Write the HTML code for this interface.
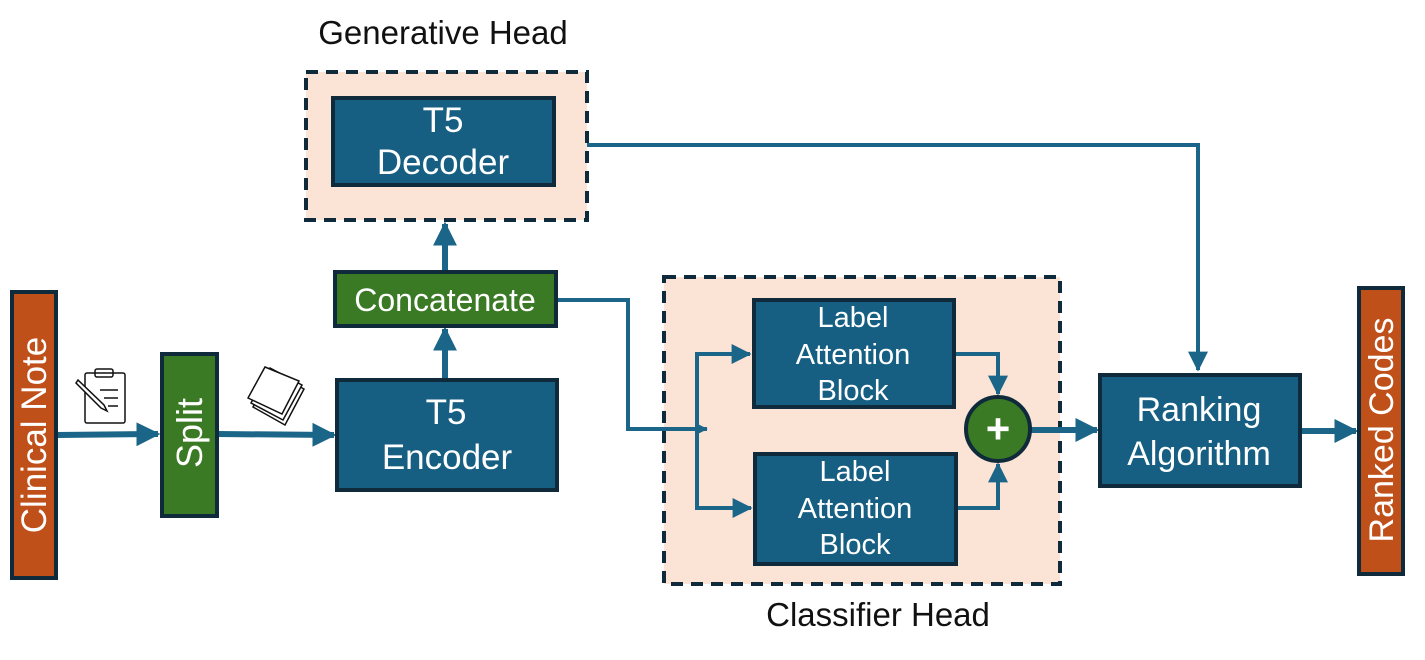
<!DOCTYPE html>
<html><head><meta charset="utf-8"><style>
html,body{margin:0;padding:0;background:#fff;}
svg{display:block;}
text{font-family:"Liberation Sans",sans-serif;fill:#fff;}
</style></head><body>
<svg width="1425" height="660" viewBox="0 0 1425 660" xmlns="http://www.w3.org/2000/svg">
<defs>
<marker id="ah" markerWidth="4" markerHeight="4" refX="3.6" refY="2" orient="auto" markerUnits="strokeWidth">
<path d="M0,0 L4,2 L0,4 z" fill="#1b6688"/></marker>
<marker id="ah3" markerWidth="5" markerHeight="5" refX="4.6" refY="2.5" orient="auto" markerUnits="strokeWidth">
<path d="M0,0 L5,2.5 L0,5 z" fill="#1b6688"/></marker>
<marker id="ah2" markerWidth="3.2" markerHeight="3.2" refX="3" refY="1.6" orient="auto" markerUnits="strokeWidth">
<path d="M0,0 L3.2,1.6 L0,3.2 z" fill="#1b6688"/></marker>
</defs>
<rect x="306" y="72" width="281" height="148" fill="#fbe3d6" stroke="#0f2a3a" stroke-width="4" stroke-dasharray="12,8"/>
<rect x="664" y="277" width="396" height="307" fill="#fbe3d6" stroke="#0f2a3a" stroke-width="4" stroke-dasharray="12,8"/>
<text x="443" y="44" font-size="33" text-anchor="middle" style="fill:#111">Generative Head</text>
<text x="878" y="626" font-size="33" text-anchor="middle" style="fill:#111">Classifier Head</text>

<g fill="none" stroke="#1b6688">
<line x1="57" y1="435" x2="158" y2="434" stroke-width="6" marker-end="url(#ah)"/>
<line x1="218" y1="434" x2="334" y2="435" stroke-width="6" marker-end="url(#ah)"/>
<line x1="445" y1="378" x2="445" y2="329" stroke-width="6" marker-end="url(#ah)"/>
<line x1="445" y1="270" x2="445" y2="224" stroke-width="6" marker-end="url(#ah)"/>
<polyline points="587,145 1198,145 1198,370" stroke-width="4" marker-end="url(#ah3)"/>
<polyline points="556,300 628,300 628,429 707,429" stroke-width="4" marker-end="url(#ah2)"/>
<polyline points="750,354 697,354 697,508 750,508" stroke-width="4"/>
<line x1="697" y1="354" x2="750" y2="354" stroke-width="4" marker-end="url(#ah3)"/>
<line x1="697" y1="508" x2="751" y2="508" stroke-width="4" marker-end="url(#ah3)"/>
<polyline points="955,354 998,354 998,394" stroke-width="4" marker-end="url(#ah3)"/>
<polyline points="957,508 998,508 998,464" stroke-width="4" marker-end="url(#ah3)"/>
<line x1="1031" y1="430" x2="1097" y2="430" stroke-width="6" marker-end="url(#ah)"/>
<line x1="1301" y1="431" x2="1356" y2="431" stroke-width="6" marker-end="url(#ah)"/>
</g>

<g stroke="#0f2a3a" stroke-width="4">
<rect x="12" y="292" width="44" height="286" fill="#c0501a"/>
<rect x="162" y="354" width="55" height="162" fill="#3b7a24"/>
<rect x="337" y="380" width="220" height="110" fill="#175f82"/>
<rect x="335" y="272" width="221" height="54" fill="#3b7a24"/>
<rect x="333" y="98" width="221" height="87" fill="#175f82"/>
<rect x="754" y="300" width="200" height="107" fill="#175f82"/>
<rect x="755" y="454" width="201" height="110" fill="#175f82"/>
<circle cx="998" cy="429" r="32" fill="#3b7a24"/>
<rect x="1100" y="375" width="200" height="111" fill="#175f82"/>
<rect x="1359" y="288" width="44" height="286" fill="#c0501a"/>
</g>
<text x="998" y="443" font-size="42" font-weight="bold" text-anchor="middle">+</text>

<text transform="translate(46,435) rotate(-90)" font-size="35" text-anchor="middle">Clinical Note</text>
<text transform="translate(202,433) rotate(-90)" font-size="36" text-anchor="middle">Split</text>
<text transform="translate(1393,430) rotate(-90)" font-size="34" text-anchor="middle">Ranked Codes</text>
<text x="445" y="311" font-size="32" text-anchor="middle">Concatenate</text>
<text x="443" y="132" font-size="35" text-anchor="middle">T5</text>
<text x="443" y="174" font-size="35" text-anchor="middle">Decoder</text>
<text x="446" y="424" font-size="35" text-anchor="middle">T5</text>
<text x="447" y="469" font-size="35" text-anchor="middle">Encoder</text>
<text x="853" y="327" font-size="29" text-anchor="middle">Label</text>
<text x="853" y="364" font-size="29" text-anchor="middle">Attention</text>
<text x="853" y="400" font-size="29" text-anchor="middle">Block</text>
<text x="855" y="481" font-size="29" text-anchor="middle">Label</text>
<text x="855" y="518" font-size="29" text-anchor="middle">Attention</text>
<text x="855" y="554" font-size="29" text-anchor="middle">Block</text>
<text x="1199" y="421" font-size="34" text-anchor="middle">Ranking</text>
<text x="1199" y="465" font-size="34" text-anchor="middle">Algorithm</text>

<g fill="none" stroke="#111" stroke-width="1.5">
<rect x="85" y="373" width="40" height="50" rx="2"/>
<rect x="95" y="369" width="18" height="8" rx="2"/>
<line x1="100" y1="390" x2="118" y2="390"/>
<line x1="104" y1="398" x2="118" y2="398"/>
<line x1="108" y1="406" x2="118" y2="406"/>
<path d="M78,380 L104,405 L107,411 L101,408 L76,383 Z" fill="#fff"/>
</g>
<g stroke="#111" stroke-width="1.5" fill="#fff">
<path d="M253,407 L285,425 L304,389 L272,372 Z"/>
<path d="M251,403 L283,420 L302,385 L270,368 Z"/>
<path d="M248,398 L282,414 L299,381 L265,367 Z"/>
</g>
</svg>
</body></html>
